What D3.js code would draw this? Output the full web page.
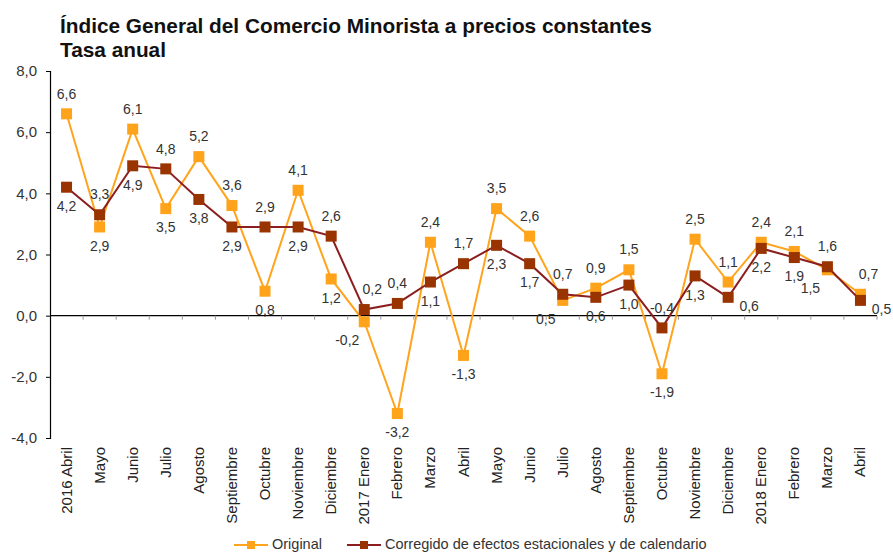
<!DOCTYPE html>
<html>
<head>
<meta charset="utf-8">
<script src="https://cdn.jsdelivr.net/npm/d3@7"></script>
<style>
  body { margin: 0; background: #fff; }
  svg { font-family: "Liberation Sans", Arial, sans-serif; }
</style>
</head>
<body>
<div id="chart"></div>
<script>
// Months (x categories)
const months = ["2016 Abril", "Mayo", "Junio", "Julio", "Agosto", "Septiembre", "Octubre",
  "Noviembre", "Diciembre", "2017 Enero", "Febrero", "Marzo", "Abril", "Mayo", "Junio",
  "Julio", "Agosto", "Septiembre", "Octubre", "Noviembre", "Diciembre", "2018 Enero",
  "Febrero", "Marzo", "Abril"];

// Tasa anual, serie original
const original = [6.6, 2.9, 6.1, 3.5, 5.2, 3.6, 0.8, 4.1, 1.2, -0.2, -3.2, 2.4, -1.3,
  3.5, 2.6, 0.5, 0.9, 1.5, -1.9, 2.5, 1.1, 2.4, 2.1, 1.5, 0.7];

// Corregido de efectos estacionales y de calendario
const corregido = [4.2, 3.3, 4.9, 4.8, 3.8, 2.9, 2.9, 2.9, 2.6, 0.2, 0.4, 1.1, 1.7,
  2.3, 1.7, 0.7, 0.6, 1.0, -0.4, 1.3, 0.6, 2.2, 1.9, 1.6, 0.5];

const yTicks = [-4, -2, 0, 2, 4, 6, 8];

// where each value label sits: a = above, b = below, l/r = shifted sideways
const posOriginal = ["a", "b", "a", "b", "a", "a", "b", "a", "b", "bl", "b", "a", "b",
  "a", "a", "bl", "a", "a", "b", "a", "a", "a", "a", "bl", "ar"];
const posCorregido = ["b", "a", "b", "a", "b", "b", "a", "b", "a", "ar", "a", "b", "a",
  "b", "b", "a", "b", "b", "a", "b", "r", "b", "b", "a", "r"];

const width = 893;
const height = 554;
const margin = { left: 50, right: 16, top: 71, bottom: 116 };

const svg = d3.select("#chart").append("svg")
  .attr("width", width)
  .attr("height", height);

const x = d3.scaleBand()
  .domain(d3.range(months.length))
  .range([margin.left, width - margin.right]);

const y = d3.scaleLinear()
  .domain([-4, 8])
  .range([height - margin.bottom, margin.top]);

const cx = i => x(i) + x.bandwidth() / 2;
const fmt = v => d3.format(".1f")(v).replace(".", ",").replace("−", "-");

// Title
svg.append("text")
  .attr("x", 60).attr("y", 33)
  .attr("font-size", 20.8).attr("font-weight", "bold").attr("fill", "#111")
  .text("Índice General del Comercio Minorista a precios constantes");
svg.append("text")
  .attr("x", 60).attr("y", 57)
  .attr("font-size", 20.8).attr("font-weight", "bold").attr("fill", "#111")
  .text("Tasa anual");

// Y axis
const yAxis = svg.append("g")
  .attr("transform", `translate(${margin.left},0)`)
  .call(d3.axisLeft(y).tickValues(yTicks).tickSize(4).tickSizeOuter(4).tickFormat(fmt));
yAxis.select(".domain").attr("stroke", "#000").attr("stroke-width", 1.2);
yAxis.selectAll(".tick line").attr("stroke", "#000");
yAxis.selectAll(".tick text")
  .attr("font-size", 15).attr("fill", "#333")
  .attr("font-family", "Liberation Sans, Arial, sans-serif")
  .attr("x", -13);

// Zero line with category separators
svg.append("line")
  .attr("x1", margin.left).attr("x2", width - margin.right)
  .attr("y1", y(0)).attr("y2", y(0))
  .attr("stroke", "#000").attr("stroke-width", 1.2);
svg.append("g").selectAll("line")
  .data(d3.range(1, months.length + 1))
  .join("line")
  .attr("x1", i => i < months.length ? x(i) : width - margin.right)
  .attr("x2", i => i < months.length ? x(i) : width - margin.right)
  .attr("y1", y(0)).attr("y2", y(0) + 4)
  .attr("stroke", "#999");

// Month labels
svg.append("g").selectAll("text")
  .data(months)
  .join("text")
  .attr("transform", (d, i) => `translate(${cx(i) + 5},${y(-4) + 9}) rotate(-90)`)
  .attr("text-anchor", "end")
  .attr("font-size", 15).attr("fill", "#222")
  .text(d => d);

const line = d3.line().x((d, i) => cx(i)).y(d => y(d));

function drawSeries(values, lineColor, markColor, lineWidth) {
  svg.append("path")
    .datum(values)
    .attr("d", line)
    .attr("fill", "none")
    .attr("stroke", lineColor)
    .attr("stroke-width", lineWidth);
  svg.append("g").selectAll("rect")
    .data(values)
    .join("rect")
    .attr("x", (d, i) => cx(i) - 5.5)
    .attr("y", d => y(d) - 5.5)
    .attr("width", 11).attr("height", 11)
    .attr("fill", markColor);
}

drawSeries(original, "#FFA41C", "#FFA31A", 2);
drawSeries(corregido, "#8B1E1E", "#993300", 2);

function drawLabels(values, pos) {
  svg.append("g").selectAll("text")
    .data(values)
    .join("text")
    .attr("x", (d, i) => {
      const p = pos[i];
      let dx = 0;
      if (p.includes("l")) dx = -17;
      if (p.includes("r")) dx = p === "r" ? 21 : 8;
      return cx(i) + dx;
    })
    .attr("y", (d, i) => {
      const p = pos[i];
      if (p === "r") return y(d) + 10;
      return p.startsWith("a") ? y(d) - 19 : y(d) + 20;
    })
    .attr("text-anchor", "middle")
    .attr("dominant-baseline", "middle")
    .attr("font-size", 14).attr("fill", "#333")
    .text(d => fmt(d));
}

drawLabels(original, posOriginal);
drawLabels(corregido, posCorregido);

// Legend
const legend = [
  { name: "Original", line: "#FFA41C", mark: "#FFA31A", x: 234 },
  { name: "Corregido de efectos estacionales y de calendario", line: "#8B1E1E", mark: "#993300", x: 347 }
];
const lg = svg.append("g").selectAll("g")
  .data(legend)
  .join("g")
  .attr("transform", d => `translate(${d.x},545)`);
lg.append("line")
  .attr("x1", 0).attr("x2", 34)
  .attr("stroke", d => d.line).attr("stroke-width", 2);
lg.append("rect")
  .attr("x", 13).attr("y", -4).attr("width", 8).attr("height", 8)
  .attr("fill", d => d.mark);
lg.append("text")
  .attr("x", 38).attr("dominant-baseline", "middle")
  .attr("font-size", 14.5).attr("fill", "#333")
  .text(d => d.name);
</script>
</body>
</html>
